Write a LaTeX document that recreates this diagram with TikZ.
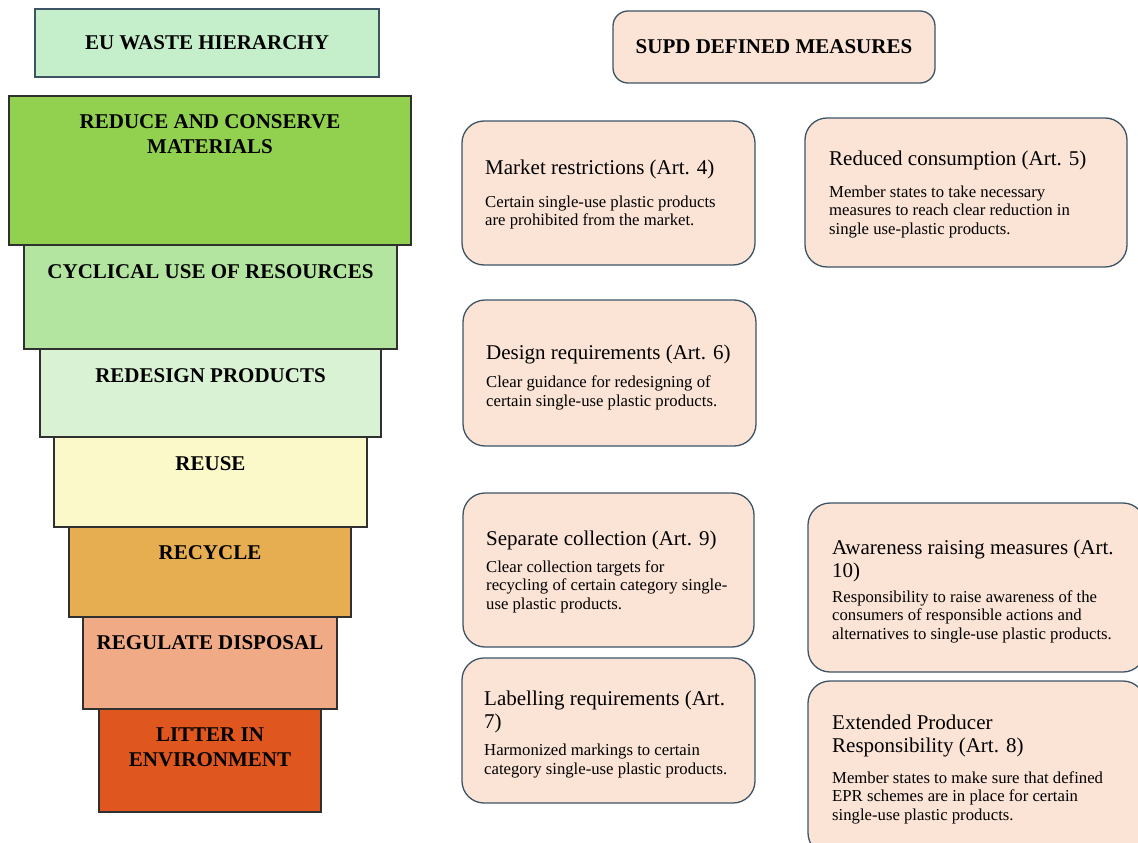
\documentclass[tikz,border=0pt]{standalone}
\usepackage{fontspec}
\setmainfont{Liberation Serif}
\definecolor{headfill}{HTML}{C4EFCA}
\definecolor{slateline}{HTML}{3D5465}
\definecolor{tierline}{HTML}{303030}
\definecolor{reducefill}{HTML}{92D050}
\definecolor{cyclefill}{HTML}{B3E4A0}
\definecolor{redesignfill}{HTML}{D9F2D3}
\definecolor{reusefill}{HTML}{FBF8C9}
\definecolor{recyclefill}{HTML}{E6AE51}
\definecolor{regulatefill}{HTML}{F0AA86}
\definecolor{litterfill}{HTML}{E0561F}
\definecolor{measfill}{HTML}{FBE3D6}
\begin{document}
\begin{tikzpicture}[x=1pt,y=-1pt,
  tier/.style={draw=tierline,line width=1.3pt,inner sep=0pt,outer sep=0pt},
  tiertext/.style={font=\fontsize{21}{25}\selectfont\bfseries,align=center,anchor=base,inner sep=0pt},
  headbox/.style={draw=slateline,line width=1.3pt,fill=headfill,inner sep=0pt,
    font=\fontsize{21}{25}\selectfont\bfseries},
  measbox/.style={draw=slateline,line width=1.3pt,fill=measfill,rounded corners=22pt,inner sep=0pt},
  meastitle/.style={font=\fontsize{21}{23}\selectfont,align=left,anchor=base west,inner sep=0pt},
  measbody/.style={font=\fontsize{16.7}{18.5}\selectfont,align=left,anchor=base west,inner sep=0pt}]
\useasboundingbox (0,0) rectangle (1138,843);
\clip (0,0) rectangle (1138,843);
% text positions below give the baseline of the LAST line of each label

% ---- EU waste hierarchy (left column) ----
\node[headbox,minimum width=344pt,minimum height=68pt] (euhead) at (207,43) {EU WASTE HIERARCHY};

\node[tier,fill=reducefill,minimum width=402pt,minimum height=149pt] (reduce) at (210,170.5) {};
\node[tier,fill=cyclefill,minimum width=373pt,minimum height=104pt] (cycle) at (210.5,297) {};
\node[tier,fill=redesignfill,minimum width=341pt,minimum height=88pt] (redesign) at (210.5,393) {};
\node[tier,fill=reusefill,minimum width=313pt,minimum height=90pt] (reuse) at (210.5,482) {};
\node[tier,fill=recyclefill,minimum width=282pt,minimum height=90pt] (recycle) at (210,572) {};
\node[tier,fill=regulatefill,minimum width=254pt,minimum height=92pt] (regulate) at (210,663) {};
\node[tier,fill=litterfill,minimum width=222pt,minimum height=103pt] (litter) at (210,760.5) {};

\node[tiertext] (reduceT) at (210,153) {REDUCE AND CONSERVE\\MATERIALS};
\node[tiertext] (cycleT) at (210.5,278) {CYCLICAL USE OF RESOURCES};
\node[tiertext] (redesignT) at (210.5,382) {REDESIGN PRODUCTS};
\node[tiertext] (reuseT) at (210.5,470) {REUSE};
\node[tiertext] (recycleT) at (210,559) {RECYCLE};
\node[tiertext] (regulateT) at (210,649) {REGULATE DISPOSAL};
\node[tiertext] (litterT) at (210,766) {LITTER IN\\ENVIRONMENT};

% ---- SUPD defined measures (right columns) ----
\node[measbox,rounded corners=15pt,minimum width=322pt,minimum height=72pt,
  font=\fontsize{21}{25}\selectfont\bfseries] (supd) at (774,47) {SUPD DEFINED MEASURES};

\node[measbox,minimum width=293pt,minimum height=144pt] (market) at (608.5,193) {};
\node[meastitle] (marketT) at (485,174) {Market restrictions (Art. 4)};
\node[measbody] (marketB) at (485,225.5) {Certain single-use plastic products\\are prohibited from the market.};

\node[measbox,minimum width=322pt,minimum height=149pt] (consume) at (966,192.5) {};
\node[meastitle] (consumeT) at (829,165) {Reduced consumption (Art. 5)};
\node[measbody] (consumeB) at (829,234) {Member states to take necessary\\measures to reach clear reduction in\\single use-plastic products.};

\node[measbox,minimum width=293pt,minimum height=146pt] (design) at (609.5,373) {};
\node[meastitle] (designT) at (486,359) {Design requirements (Art. 6)};
\node[measbody] (designB) at (486,406) {Clear guidance for redesigning of\\certain single-use plastic products.};

\node[measbox,minimum width=291pt,minimum height=154pt] (collect) at (608.5,570) {};
\node[meastitle] (collectT) at (486,545) {Separate collection (Art. 9)};
\node[measbody] (collectB) at (486,609) {Clear collection targets for\\recycling of certain category single-\\use plastic products.};

\node[measbox,minimum width=337pt,minimum height=169pt] (aware) at (976.5,587.5) {};
\node[meastitle] (awareT) at (832,577) {Awareness raising measures (Art.\\10)};
\node[measbody] (awareB) at (832,639) {Responsibility to raise awareness of the\\consumers of responsible actions and\\alternatives to single-use plastic products.};

\node[measbox,minimum width=293pt,minimum height=145pt] (label) at (608.5,730.5) {};
\node[meastitle] (labelT) at (484,728) {Labelling requirements (Art.\\7)};
\node[measbody] (labelB) at (484,774) {Harmonized markings to certain\\category single-use plastic products.};

\node[measbox,minimum width=337pt,minimum height=174pt] (epr) at (976.5,768) {};
\node[meastitle] (eprT) at (832,752) {Extended Producer\\Responsibility (Art. 8)};
\node[measbody] (eprB) at (832,820) {Member states to make sure that defined\\EPR schemes are in place for certain\\single-use plastic products.};
\end{tikzpicture}
\end{document}
